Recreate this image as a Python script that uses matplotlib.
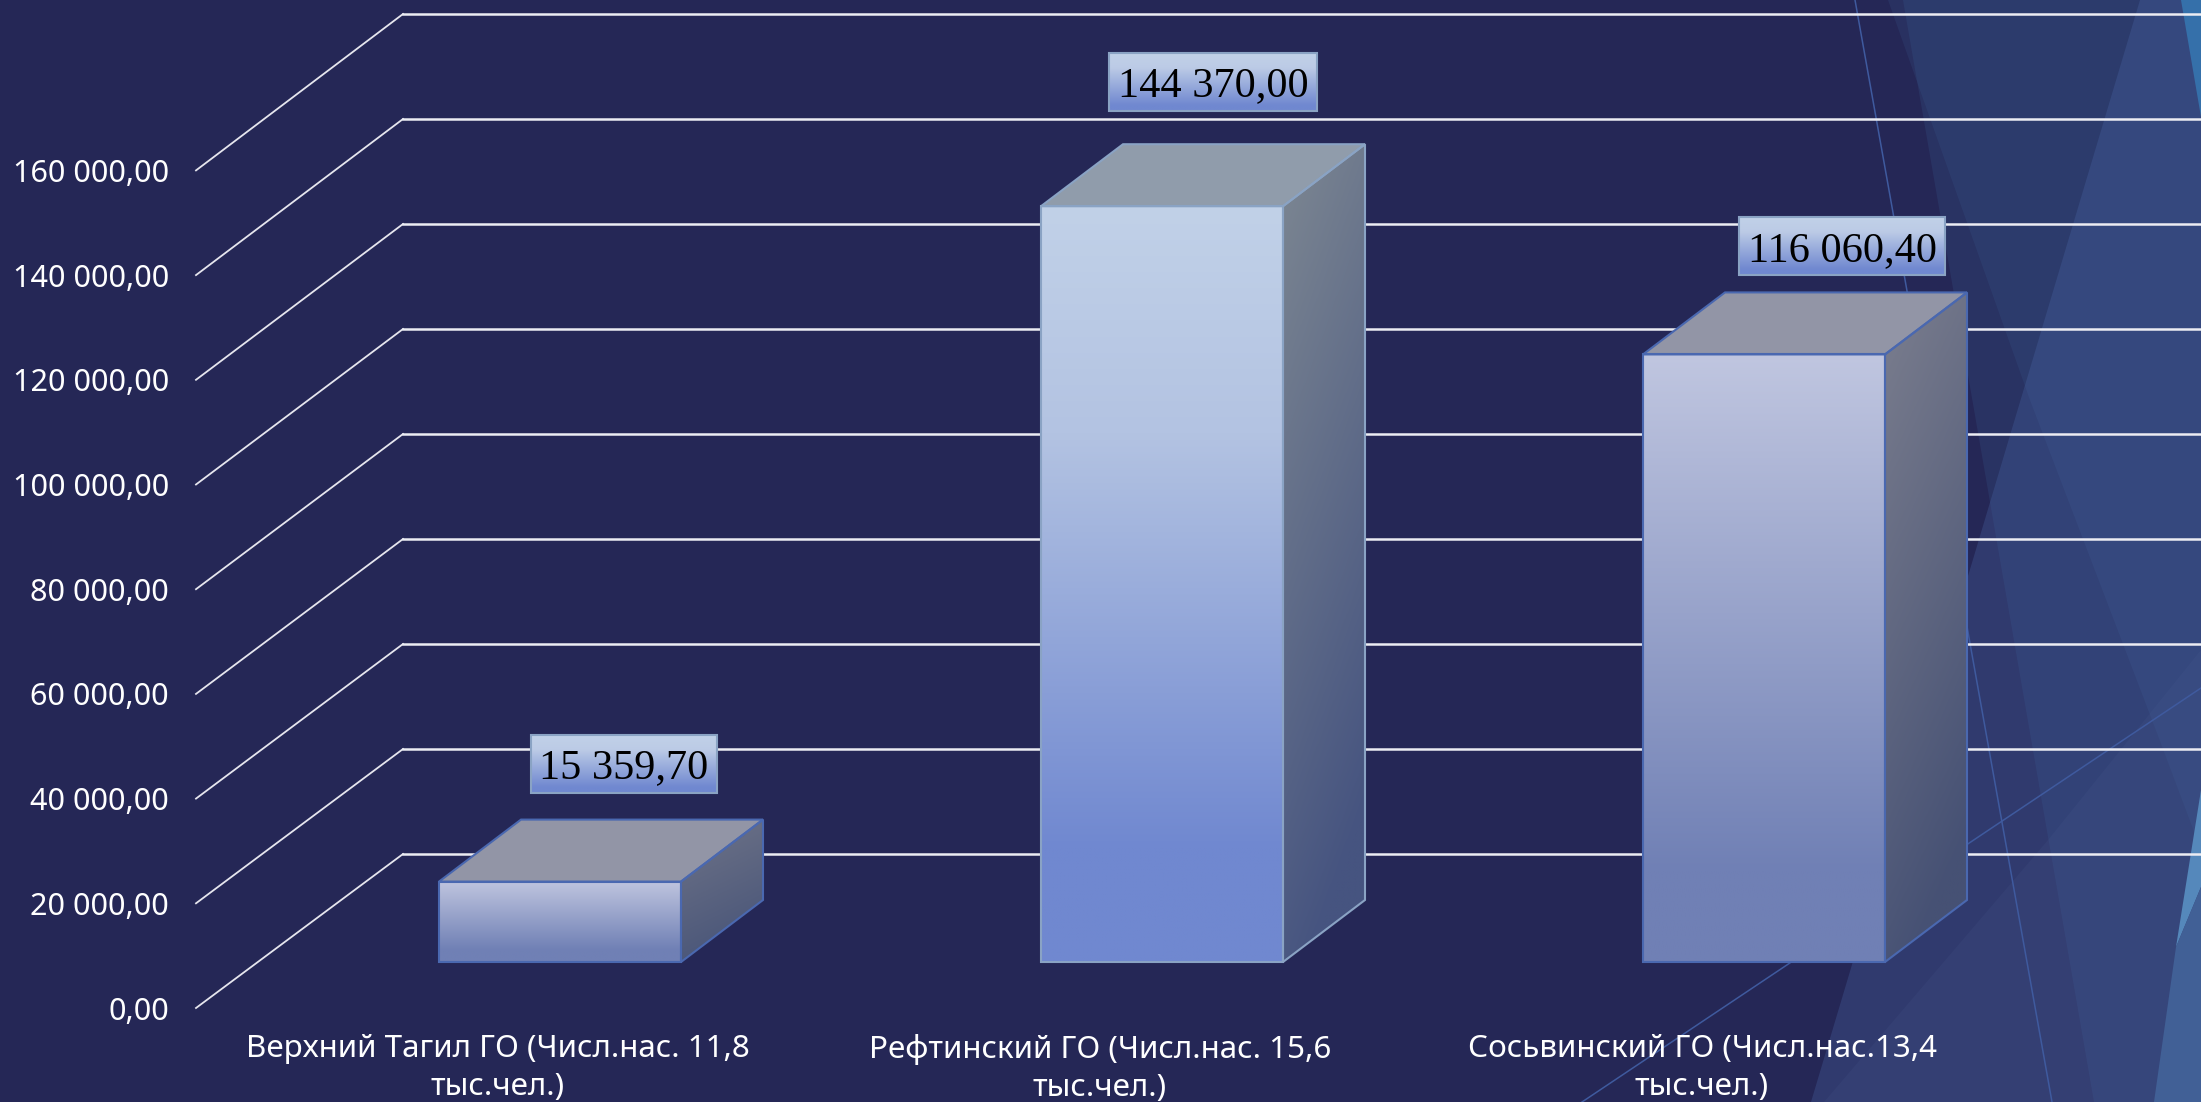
import numpy as np
import matplotlib
matplotlib.use('Agg')
import matplotlib.pyplot as plt
from matplotlib.colors import LinearSegmentedColormap
from matplotlib.patches import Polygon

categorias = ['Верхний Тагил ГО (Числ.нас. 11,8\nтыс.чел.)',
              'Рефтинский ГО (Числ.нас. 15,6\nтыс.чел.)',
              'Сосьвинский ГО (Числ.нас.13,4\nтыс.чел.)']
valores = [15359.70, 144370.00, 116060.40]
ticks = [0, 20000, 40000, 60000, 80000, 100000, 120000, 140000, 160000]

W, H = 2201, 1102
FONDO = '#252756'
PX_Y = 104.7 / 20000     # pixeles por unidad
PX_X = 602               # pixeles por categoria


def fmt(v):
    return f'{v:,.2f}'.replace(',', ' ').replace('.', ',')


def degradado(ax, x0, x1, y0, y1, colores, poly, z, diag=False):
    cmap = LinearSegmentedColormap.from_list('g', colores)
    if diag:
        xx, yy = np.meshgrid(np.linspace(0, 1, 60), np.linspace(0, 1, 200))
        rampa = np.minimum(yy * 0.92 + xx * 0.25, 1)
    else:
        rampa = np.linspace(0, 1, 256).reshape(-1, 1)
    im = ax.imshow(rampa, extent=(x0, x1, y0, y1), cmap=cmap, vmin=0, vmax=1,
                   aspect='auto', origin='upper', zorder=z, interpolation='bilinear')
    p = Polygon(poly, closed=True, transform=ax.transData, fc='none', ec='none')
    ax.add_patch(p)
    im.set_clip_path(p)


fig = plt.figure(figsize=(W / 100, H / 100), dpi=100, facecolor=FONDO)

# fondo con las facetas del tema
bg = fig.add_axes([0, 0, 1, 1], zorder=0)
bg.set_xlim(0, W)
bg.set_ylim(H, 0)
bg.axis('off')
bg.add_patch(Polygon([(1903, 0), (2094, 1102), (2201, 1102), (2201, 0)], fc='#3f6aa0', alpha=0.18, ec='none'))
bg.add_patch(Polygon([(1888, 0), (2030, 400), (2157, 733), (2201, 850), (2201, 0)], fc='#3f6aa0', alpha=0.16, ec='none'))
bg.add_patch(Polygon([(2140, 0), (1811, 1102), (2201, 1102), (2201, 0)], fc='#4a68a8', alpha=0.3, ec='none'))
bg.add_patch(Polygon([(1824, 1102), (2048, 840), (2201, 650), (2201, 1102)], fc='#5a6ea0', alpha=0.1, ec='none'))
bg.add_patch(Polygon([(2181, 0), (2201, 117), (2201, 0)], fc='#3570aa', ec='none'))
bg.add_patch(Polygon([(2201, 790), (2176, 947), (2201, 887)], fc='#5588bb', ec='none'))
bg.add_patch(Polygon([(2176, 947), (2154, 1102), (2201, 1102), (2201, 887)], fc='#416096', ec='none'))
bg.plot([1855, 2052], [0, 1102], color='#3f5a9e', lw=1.1)
bg.plot([1582, 2201], [1102, 688], color='#3f5a9e', lw=1.1)

ax = fig.add_axes([196 / W, (H - 1008) / H, (W - 196) / W, 1008 / H], zorder=1)
ax.patch.set_alpha(0)
xmin, xmax = (196 - 498) / PX_X, (W - 498) / PX_X
ymax = 1008 / PX_Y

# paredes: lineas de rejilla (la pared del fondo tiene escala un poco mayor)
fondo_dx = 207 / PX_X
fondo_dy = 154 / PX_Y
for t in ticks:
    yb = t * 105 / 104.7 + fondo_dy
    ax.plot([xmin, xmin + fondo_dx], [t, yb], color='#e6e6ee', lw=1.3, zorder=2, clip_on=False)
    ax.plot([xmin + fondo_dx, xmax], [yb, yb], color='#ecedf3', lw=1.8, zorder=2, clip_on=False)

# barras 3d
piso_x = 62 / PX_X
piso_y = 46 / PX_Y
ancho = 242 / PX_X
prof_x = 82 / PX_X
prof_y = 62 / PX_Y
frentes = [[(0, '#bfc5df'), (0.85, '#7080b5'), (1, '#7080b5')],
           [(0, '#c1d1e8'), (0.3, '#b3c3e2'), (0.85, '#7088d0'), (1, '#7088d0')],
           [(0, '#c0c6e0'), (0.85, '#7080b5'), (1, '#7080b5')]]
lados = [['#6f7488', '#4a5679'], ['#7d8792', '#465480'], ['#7b7e8e', '#465174']]
tapas = ['#9295a6', '#909cab', '#9295a6']
bordes = ['#4a68b0', '#8aa3c4', '#4a68b0']

for i, v in enumerate(valores):
    x0 = i + piso_x - ancho / 2
    x1 = x0 + ancho
    y0 = piso_y
    y1 = piso_y + v
    frente = [(x0, y0), (x1, y0), (x1, y1), (x0, y1)]
    lado = [(x1, y0), (x1 + prof_x, y0 + prof_y), (x1 + prof_x, y1 + prof_y), (x1, y1)]
    tapa = [(x0, y1), (x1, y1), (x1 + prof_x, y1 + prof_y), (x0 + prof_x, y1 + prof_y)]
    degradado(ax, x0, x1, y0, y1, frentes[i], frente, 4)
    degradado(ax, x1, x1 + prof_x, y0, y1 + prof_y, lados[i], lado, 4, diag=True)
    ax.add_patch(Polygon(tapa, fc=tapas[i], ec='none', zorder=4))
    for cara in (frente, lado, tapa):
        ax.add_patch(Polygon(cara, fc='none', ec=bordes[i], lw=1.5, zorder=5, joinstyle='miter'))

# etiquetas de valor, colocadas a mano respecto al frente de cada barra
etq_dx = [64, 51, 78]
etq_dy = [118, 124.5, 108]
gradiente_etq = [(0, '#c1d1e8'), (0.25, '#bccbe6'), (0.9, '#7088d0'), (1, '#7088d0')]
fig.canvas.draw()
rend = fig.canvas.get_renderer()
for i, v in enumerate(valores):
    cx = i + piso_x + etq_dx[i] / PX_X
    cy = piso_y + v + etq_dy[i] / PX_Y
    ax.set_xlim(xmin, xmax)
    ax.set_ylim(0, ymax)
    txt = ax.text(cx, cy, fmt(v), ha='center', va='center_baseline', color='black',
                  fontsize=30.5, family='Liberation Serif', zorder=8)
    ext = txt.get_window_extent(rend)
    mw = (ext.width / 2 + 8.5) / PX_X
    mh = 29 / PX_Y
    caja = [(cx - mw, cy - mh), (cx + mw, cy - mh), (cx + mw, cy + mh), (cx - mw, cy + mh)]
    degradado(ax, cx - mw, cx + mw, cy - mh, cy + mh, gradiente_etq, caja, 6)
    ax.add_patch(Polygon(caja, fc='none', ec='#8aa3c4', lw=1.5, zorder=7))

ax.set_xlim(xmin, xmax)
ax.set_ylim(0, ymax)
ax.set_xticks(range(len(categorias)))
ax.set_xticklabels(categorias, fontsize=22.6, color='white', family='Noto Sans', linespacing=1.36)
ax.set_yticks(ticks)
ax.set_yticklabels([fmt(t) for t in ticks], fontsize=22, color='white', family='Noto Sans')
ax.tick_params(axis='x', length=0, pad=18.5)
ax.tick_params(axis='y', length=0, pad=19.5)
for s in ax.spines.values():
    s.set_visible(False)

fig.savefig('out.png', dpi=100, facecolor=FONDO)
plt.close()
